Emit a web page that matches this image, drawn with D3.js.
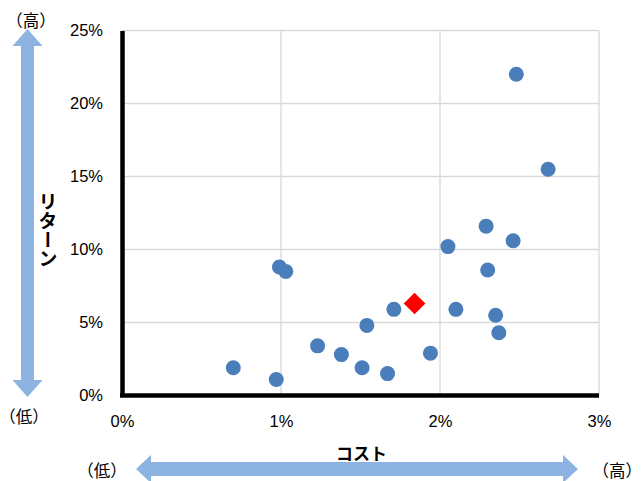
<!DOCTYPE html>
<html><head><meta charset="utf-8">
<script src="https://cdn.jsdelivr.net/npm/d3@7"></script>
<style>
html,body{margin:0;padding:0;background:#fff;}
svg{display:block;}
</style>
</head><body>
<svg id="chart" width="642" height="481"></svg>
<script>
// Data (cost %, return %)
const fundCost   = [0.70, 0.97, 0.99, 1.03, 1.23, 1.38, 1.51, 1.67, 1.54, 1.71, 1.94, 2.05, 2.10, 2.29, 2.30, 2.35, 2.37, 2.46, 2.48, 2.68];
const fundReturn = [1.9, 1.1, 8.8, 8.5, 3.4, 2.8, 1.9, 1.5, 4.8, 5.9, 2.9, 10.2, 5.9, 11.6, 8.6, 5.5, 4.3, 10.6, 22.0, 15.5];
const targetCost   = [1.84];
const targetReturn = [6.3];
const xTicks = [0, 1, 2, 3];
const yTicks = [0, 5, 10, 15, 20, 25];
const xTitle = "コスト";
const yTitle = "リターン";
const lowLabel = "（低）";
const highLabel = "（高）";

const svg = d3.select("#chart");
const x = d3.scaleLinear().domain([0, 3]).range([122, 599]);
const y = d3.scaleLinear().domain([0, 25]).range([395.5, 30.5]);
const tickFont = "'Liberation Sans', Arial, sans-serif";
const jpFont = "'Noto Sans CJK JP', sans-serif";

// gridlines
const grid = svg.append("g");
grid.selectAll("line.h").data(yTicks).join("line")
  .attr("x1", x(0)).attr("x2", x(3))
  .attr("y1", d => y(d)).attr("y2", d => y(d))
  .attr("stroke", "#d9d9d9").attr("stroke-width", 1.3);
grid.selectAll("line.v").data(xTicks).join("line")
  .attr("y1", y(0)).attr("y2", y(25))
  .attr("x1", d => x(d)).attr("x2", d => x(d))
  .attr("stroke", "#d9d9d9").attr("stroke-width", 1.3);

// axes
const yAxis = d3.axisLeft(y).tickValues(yTicks).tickFormat(d => d + "%").tickSize(0).tickPadding(19);
const gy = svg.append("g").attr("transform", `translate(${x(0)},0)`).call(yAxis);
gy.select(".domain").attr("stroke", "#000").attr("stroke-width", 4.5);
gy.selectAll("text").attr("font-family", tickFont).attr("font-size", 16.5).attr("fill", "#000");

const xAxis = d3.axisBottom(x).tickValues(xTicks).tickFormat(d => d + "%").tickSize(0).tickPadding(20);
const gx = svg.append("g").attr("transform", `translate(0,${y(0)})`).call(xAxis);
gx.select(".domain").attr("stroke", "#000").attr("stroke-width", 4.5).attr("d", `M${x(0)-2},0H${x(3)}`);
gx.selectAll("text").attr("font-family", tickFont).attr("font-size", 16.5).attr("fill", "#000");

// points
const pts = fundCost.map((c, i) => ({c, r: fundReturn[i]}));
svg.append("g").selectAll("circle").data(pts).join("circle")
  .attr("cx", d => x(d.c)).attr("cy", d => y(d.r)).attr("r", 7.5)
  .attr("fill", "#4a7ebb");

const tgt = targetCost.map((c, i) => ({c, r: targetReturn[i]}));
svg.append("g").selectAll("path").data(tgt).join("path")
  .attr("d", d3.symbol(d3.symbolDiamond2, 300))
  .attr("transform", d => `translate(${x(d.c)},${y(d.r)})`)
  .attr("fill", "#ff0000");

// axis titles
svg.append("text").attr("x", (x(0) + x(3)) / 2 + 1).attr("y", 460)
  .attr("text-anchor", "middle").attr("font-family", jpFont).attr("font-weight", "bold")
  .attr("font-size", 17).text(xTitle);

svg.append("text").attr("x", 48).attr("y", 192)
  .attr("font-family", jpFont).attr("font-weight", "bold").attr("font-size", 19)
  .style("writing-mode", "vertical-rl").style("text-orientation", "upright")
  .text(yTitle);

// arrows
const arrowColor = "#8db3e2";
// vertical double arrow
const vx = 27.5, vTop = 29, vBot = 397, hw = 15, sw = 6.5, hl = 17;
svg.append("path").attr("fill", arrowColor).attr("d",
  `M${vx},${vTop}L${vx+hw},${vTop+hl}L${vx+sw},${vTop+hl}L${vx+sw},${vBot-hl}L${vx+hw},${vBot-hl}` +
  `L${vx},${vBot}L${vx-hw},${vBot-hl}L${vx-sw},${vBot-hl}L${vx-sw},${vTop+hl}L${vx-hw},${vTop+hl}Z`);
// horizontal double arrow
const hy = 469, hL = 136, hR = 578, hhw = 14, hsw = 7, hhl = 15;
svg.append("path").attr("fill", arrowColor).attr("d",
  `M${hL},${hy}L${hL+hhl},${hy-hhw}L${hL+hhl},${hy-hsw}L${hR-hhl},${hy-hsw}L${hR-hhl},${hy-hhw}` +
  `L${hR},${hy}L${hR-hhl},${hy+hhw}L${hR-hhl},${hy+hsw}L${hL+hhl},${hy+hsw}L${hL+hhl},${hy+hhw}Z`);

// low/high labels
const lbl = (t, cx, cy, anchor) => svg.append("text").attr("x", cx).attr("y", cy)
  .attr("text-anchor", anchor || "middle").attr("dominant-baseline", "central")
  .attr("font-family", jpFont).attr("font-size", 16.5).attr("fill", "#000").text(t);
lbl(highLabel, 31, 20);
lbl(lowLabel, 24, 416);
lbl(lowLabel, 102, 470);
lbl(highLabel, 642, 470, "end");
</script>
</body></html>
